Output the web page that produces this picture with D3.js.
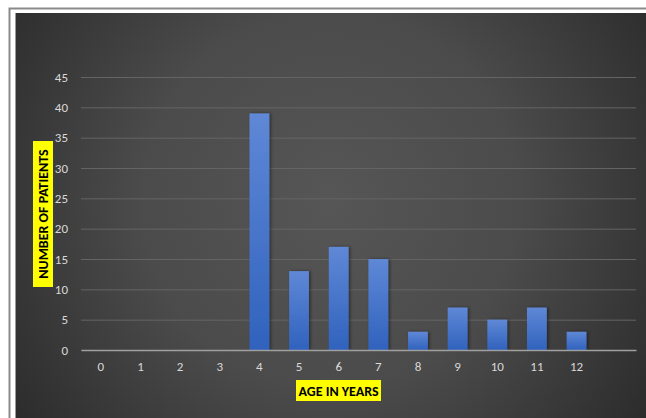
<!DOCTYPE html>
<html><head><meta charset="utf-8">
<script src="https://cdn.jsdelivr.net/npm/d3@7"></script>
<style>html,body{margin:0;padding:0;background:#fff;}svg{display:block;}</style>
</head><body>
<script>
const categories = ["0","1","2","3","4","5","6","7","8","9","10","11","12",""];
const patients = [0,0,0,0,39,13,17,15,3,7,5,7,3,null];
const yTicks = [0,5,10,15,20,25,30,35,40,45];
const xTitle = "AGE IN YEARS";
const yTitle = "NUMBER OF PATIENTS";

const W = 646, H = 418;
const svg = d3.select("body").append("svg").attr("width", W).attr("height", H);
const defs = svg.append("defs");
const rg = defs.append("radialGradient").attr("id","bg").attr("gradientUnits","userSpaceOnUse")
  .attr("cx", 330).attr("cy", 200).attr("r", 420);
rg.append("stop").attr("offset","0%").attr("stop-color","#565656");
rg.append("stop").attr("offset","45%").attr("stop-color","#4b4b4b");
rg.append("stop").attr("offset","100%").attr("stop-color","#262626");
const bg = defs.append("linearGradient").attr("id","bar").attr("x1",0).attr("x2",0).attr("y1",0).attr("y2",1);
bg.append("stop").attr("offset","0%").attr("stop-color","#5f88d6");
bg.append("stop").attr("offset","100%").attr("stop-color","#3062bd");
const f = defs.append("filter").attr("id","sh").attr("x","-30%").attr("y","-10%").attr("width","160%").attr("height","130%");
f.append("feDropShadow").attr("dx",1.5).attr("dy",0).attr("stdDeviation",1.5).attr("flood-color","#000").attr("flood-opacity",0.45);

// outer frame
svg.append("rect").attr("x",9.5).attr("y",8.5).attr("width",W).attr("height",H).attr("fill","none").attr("stroke","#8a8a8a").attr("stroke-width",2);
svg.append("rect").attr("x",15).attr("y",13).attr("width",W-15).attr("height",H-13).attr("fill","url(#bg)");
svg.append("line").attr("x1",15.5).attr("x2",15.5).attr("y1",13).attr("y2",H).attr("stroke","#9a9a9a").attr("stroke-width",1);

const x = d3.scaleBand().domain(categories).range([81, 636]).paddingInner(0.5).paddingOuter(0.25);
const y = d3.scaleLinear().domain([0,45]).range([350, 77]);

const font = "Carlito, Calibri, Lato, 'Open Sans', sans-serif";

// gridlines
const gy = svg.append("g").attr("transform","translate(81,0)")
  .call(d3.axisLeft(y).tickValues(yTicks).tickSize(-(636-81)).tickFormat(""));
gy.select(".domain").remove();
gy.selectAll(".tick line").attr("stroke","#646464").attr("stroke-width",1);

// y labels
const yl = svg.append("g").attr("transform","translate(81,0)")
  .call(d3.axisLeft(y).tickValues(yTicks).tickSize(0).tickPadding(13));
yl.select(".domain").remove();
yl.selectAll("text").attr("fill","#d9d9d9").attr("font-family",font).attr("font-size",13);

// bars
svg.append("g").selectAll("rect").data(categories.map((c,i)=>({c,v:patients[i]})).filter(d=>d.v))
  .join("rect")
  .attr("x", d=>x(d.c)).attr("width", x.bandwidth())
  .attr("y", d=>y(d.v)).attr("height", d=>y(0)-y(d.v))
  .attr("fill","url(#bar)").attr("filter","url(#sh)");

// x axis
const xa = svg.append("g").attr("transform","translate(0,350)")
  .call(d3.axisBottom(x).tickSize(0).tickPadding(12));
xa.select(".domain").attr("stroke","#a0a0a0").attr("stroke-width",1.5);
xa.selectAll("text").attr("fill","#d9d9d9").attr("font-family",font).attr("font-size",13);

// titles
const xt = svg.append("g");
xt.append("rect").attr("x",296).attr("y",380).attr("width",85).attr("height",21).attr("fill","#ffff00");
xt.append("text").attr("x",338.5).attr("y",395.5).attr("text-anchor","middle")
  .attr("font-family",font).attr("font-weight","bold").attr("font-size",14).attr("fill","#000").text(xTitle);
const yt = svg.append("g").attr("transform","translate(43,214) rotate(-90)");
yt.append("rect").attr("x",-73).attr("y",-10).attr("width",146).attr("height",20).attr("fill","#ffff00");
yt.append("text").attr("x",0).attr("y",5).attr("text-anchor","middle")
  .attr("font-family",font).attr("font-weight","bold").attr("font-size",14).attr("fill","#000").text(yTitle);
</script>
</body></html>
